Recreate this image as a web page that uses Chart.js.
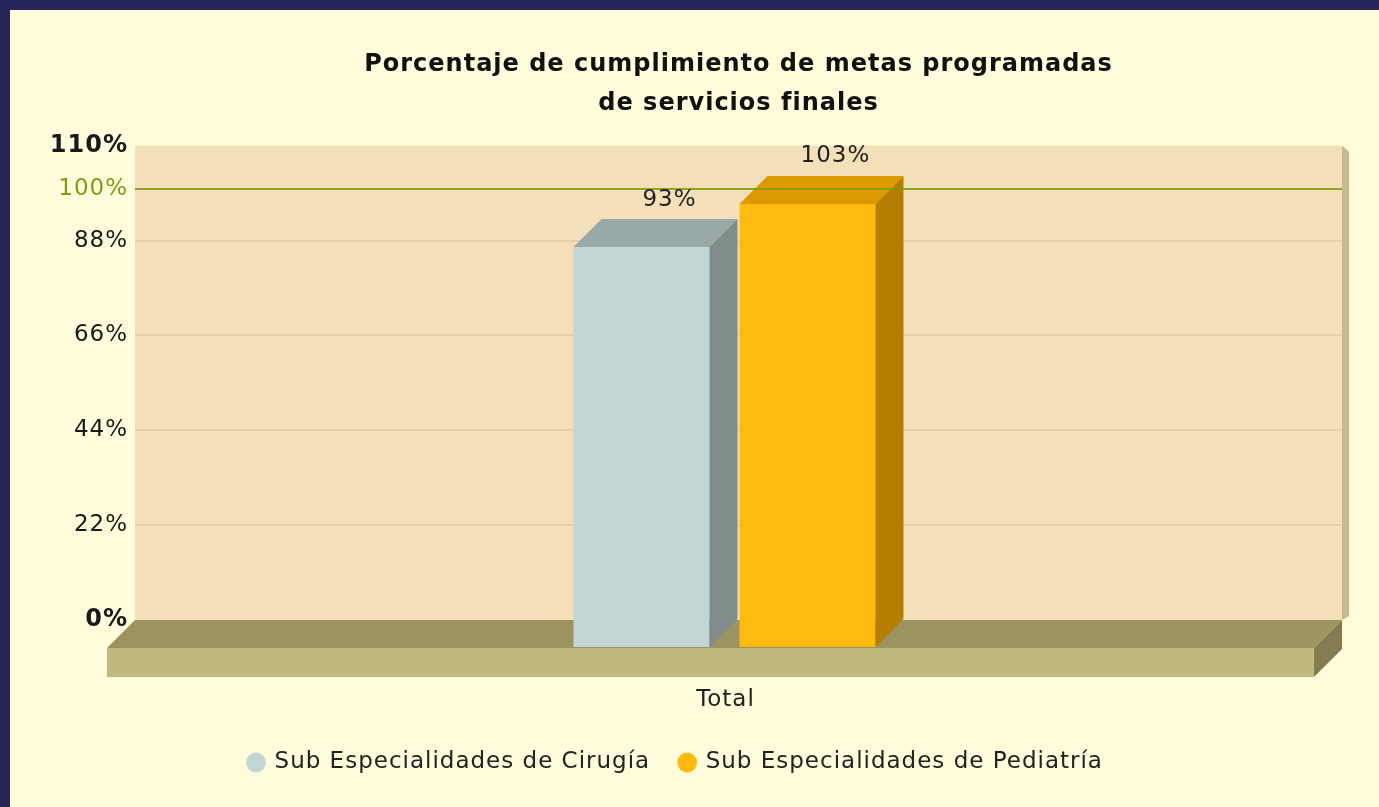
<!DOCTYPE html>
<html>
<head>
<meta charset="utf-8">
<script src="https://cdn.jsdelivr.net/npm/chart.js@4.4.0/dist/chart.umd.min.js"></script>
<style>
  html, body { margin: 0; padding: 0; background: #26265a; }
  #wrap { position: absolute; left: 10px; top: 10px; width: 1369px; height: 797px; background: #fffcdc; }
</style>
</head>
<body>
<div id="wrap"><canvas id="metasChart" width="1369" height="797"></canvas></div>
<script>
const categories = ["Total"];
const seriesNames = ["Sub Especialidades de Cirugía", "Sub Especialidades de Pediatría"];
const cirugiaValues = [93];
const pediatriaValues = [103];
const yTickValues = [0, 22, 44, 66, 88, 110];
const targetValue = 100;
const titleLines = ["Porcentaje de cumplimiento de metas programadas", "de servicios finales"];

const FONT = "'DejaVu Sans', Verdana, sans-serif";
const DEPTH = 28;
const faces = [
  { front: "#c2d6d6", top: "#98a9a8", side: "#808c88" },
  { front: "#ffba0f", top: "#dc9900", side: "#b67e00" }
];

const tickVal = c => (c && c.tick) ? c.tick.value : null;

// 3D look: back wall, floor, prisms, target line and value labels
const look3d = {
  id: "look3d",
  beforeUpdate(chart) { chart.ctx.letterSpacing = "1px"; },
  beforeDraw(chart) {
    const { ctx, chartArea: a } = chart;
    ctx.letterSpacing = "1px";
    ctx.save();
    ctx.fillStyle = "#f4e0b8";
    ctx.fillRect(a.left, a.top, a.right - a.left, a.bottom - a.top);
    ctx.fillStyle = "#c8b88e";
    ctx.beginPath();
    ctx.moveTo(a.right, a.top);
    ctx.lineTo(a.right + 7, a.top + 6);
    ctx.lineTo(a.right + 7, a.bottom - 4);
    ctx.lineTo(a.right, a.bottom);
    ctx.fill();
    ctx.restore();
  },
  beforeDatasetsDraw(chart) {
    const { ctx, chartArea: a } = chart;
    const b = chart.scales.y.getPixelForValue(0);
    const d = DEPTH, t = 29;
    ctx.save();
    ctx.fillStyle = "#9b9461";
    ctx.beginPath();
    ctx.moveTo(a.left, b); ctx.lineTo(a.right, b);
    ctx.lineTo(a.right - d, b + d); ctx.lineTo(a.left - d, b + d);
    ctx.fill();
    ctx.fillStyle = "#bfb97d";
    ctx.fillRect(a.left - d, b + d, a.right - a.left, t);
    ctx.fillStyle = "#837c50";
    ctx.beginPath();
    ctx.moveTo(a.right, b); ctx.lineTo(a.right, b + t);
    ctx.lineTo(a.right - d, b + d + t); ctx.lineTo(a.right - d, b + d);
    ctx.fill();
    ctx.restore();
  },
  beforeDatasetDraw(chart, args) {
    const { ctx } = chart;
    const c = faces[args.index];
    const d = DEPTH;
    chart.getDatasetMeta(args.index).data.forEach(el => {
      const fl = el.x - el.width / 2;
      const fr = el.x + el.width / 2 - d;
      const yt = el.y, yb = el.base;
      ctx.save();
      ctx.fillStyle = c.front;
      ctx.fillRect(fl, yt + d, fr - fl, yb - yt);
      ctx.fillStyle = c.top;
      ctx.beginPath();
      ctx.moveTo(fl, yt + d); ctx.lineTo(fl + d, yt);
      ctx.lineTo(fr + d, yt); ctx.lineTo(fr, yt + d);
      ctx.fill();
      ctx.fillStyle = c.side;
      ctx.beginPath();
      ctx.moveTo(fr, yt + d); ctx.lineTo(fr + d, yt);
      ctx.lineTo(fr + d, yb); ctx.lineTo(fr, yb + d);
      ctx.fill();
      ctx.restore();
    });
    return false;
  },
  afterDatasetsDraw(chart) {
    const { ctx, chartArea: a } = chart;
    const y = chart.scales.y.getPixelForValue(targetValue);
    ctx.save();
    ctx.strokeStyle = "rgba(122,156,10,0.85)";
    ctx.lineWidth = 2;
    ctx.beginPath();
    ctx.moveTo(a.left, y); ctx.lineTo(a.right, y);
    ctx.stroke();

    ctx.fillStyle = "#222";
    ctx.font = "23px " + FONT;
    ctx.textAlign = "center";
    ctx.textBaseline = "bottom";
    chart.data.datasets.forEach((ds, i) => {
      chart.getDatasetMeta(i).data.forEach((el, j) => {
        ctx.fillText(ds.data[j] + "%", el.x + DEPTH / 2, el.y - 8);
      });
    });
    ctx.restore();
  }
};

new Chart(document.getElementById("metasChart"), {
  type: "bar",
  data: {
    labels: categories,
    datasets: [
      { label: seriesNames[0], data: cirugiaValues, backgroundColor: faces[0].front, borderWidth: 0 },
      { label: seriesNames[1], data: pediatriaValues, backgroundColor: faces[1].front, borderWidth: 0 }
    ]
  },
  options: {
    responsive: false,
    animation: false,
    events: [],
    categoryPercentage: 0.275,
    barPercentage: 0.988,
    layout: { padding: { top: 0, right: 37, bottom: 23, left: 0 } },
    plugins: {
      tooltip: { enabled: false },
      title: {
        display: true,
        text: titleLines,
        fullSize: false,
        color: "#111",
        font: { family: FONT, size: 24, weight: "bold", lineHeight: 1.6 },
        padding: { top: 36, bottom: 23 }
      },
      legend: {
        position: "bottom",
        labels: {
          usePointStyle: true,
          pointStyle: "circle",
          boxWidth: 14,
          boxHeight: 14,
          padding: 30,
          color: "#222",
          font: { family: FONT, size: 23 }
        }
      }
    },
    scales: {
      x: {
        grid: { display: false, drawTicks: false },
        border: { display: false },
        ticks: { padding: 66, labelOffset: -13, color: "#222", font: { family: FONT, size: 23 } },
        afterFit(s) { s.height = 101; }
      },
      y: {
        min: 0,
        max: 110,
        afterBuildTicks(s) {
          s.ticks = [...yTickValues, targetValue].sort((p, q) => p - q).map(v => ({ value: v }));
        },
        afterFit(s) { s.width = 125; },
        border: { display: false },
        grid: {
          drawTicks: false,
          lineWidth: 2,
          color: c => (tickVal(c) > 0 && tickVal(c) < targetValue) ? "#e6d0a8" : "rgba(0,0,0,0)"
        },
        ticks: {
          padding: 7,
          callback: v => v + "%",
          color: c => tickVal(c) === targetValue ? "#7f9d16" : "#1a1a1a",
          font: c => (tickVal(c) === 0 || tickVal(c) === 110)
            ? { family: FONT, size: 24, weight: "bold" }
            : { family: FONT, size: 23 }
        }
      }
    }
  },
  plugins: [look3d]
});
</script>
</body>
</html>
